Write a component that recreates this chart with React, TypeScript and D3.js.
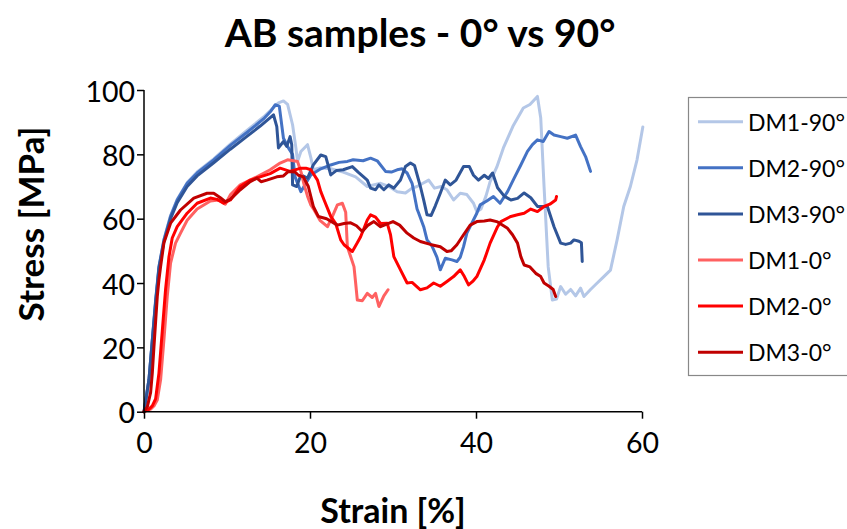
import React, { useEffect, useRef } from "react";
import * as d3 from "d3";

type Pt = [number, number];

const titleText = "AB samples - 0° vs 90°";
const xAxisTitle = "Strain [%]";
const yAxisTitle = "Stress [MPa]";
const xTicks = [0, 20, 40, 60];
const yTicks = [0, 20, 40, 60, 80, 100];

const seriesNames = ["DM1-90°", "DM2-90°", "DM3-90°", "DM1-0°", "DM2-0°", "DM3-0°"];
const seriesColors = ["#B4C7E7", "#4472C4", "#2F5597", "#FF6161", "#FF0000", "#C00000"];

const dm1_90: Pt[] = [
  [0, 0], [0.6, 10], [1, 22], [1.4, 34], [1.8, 45], [2.4, 53.5], [3.2, 61], [4, 66], [5.2, 71.2], [6.4, 74.5],
  [8.4, 78.6], [10.4, 83.2], [12.4, 87.4], [14.4, 91.6], [15.6, 94.5], [16.2, 96], [16.8, 96.6], [17.3, 95.5],
  [17.9, 89.2], [18.3, 82], [18.5, 77.8], [18.9, 80.9], [19.7, 83], [20.1, 79], [20.4, 75.2], [21.2, 75.8],
  [22.5, 75.5], [24, 74.5], [25.5, 73], [26.9, 70], [28.5, 71], [29.5, 70], [30.5, 68.4], [31.5, 68],
  [32.3, 69.5], [32.9, 70], [33.6, 71], [34.3, 72], [35, 69.5], [35.8, 70], [36.5, 69], [37.3, 65.8],
  [38.1, 67.9], [38.9, 67.5], [39.7, 64.8], [40.1, 62.2], [40.6, 63], [41.2, 67], [41.7, 71.5], [42.5, 76],
  [43.3, 82], [44.5, 89], [45.7, 94.4], [46.5, 95.5], [47.4, 98], [47.8, 91.3], [48.2, 70], [48.7, 45],
  [49.2, 34.7], [49.7, 35], [50.2, 38.9], [50.8, 36.5], [51.4, 38], [52, 36], [52.6, 38.4], [53, 35.8],
  [53.8, 38], [54.6, 40], [55.4, 42], [56.2, 44], [57, 53.4], [57.8, 63.8], [58.6, 70], [59.4, 78.3], [60.1, 88.5],
];

const dm2_90: Pt[] = [
  [0, 0], [0.6, 10], [1, 22.3], [1.4, 34.7], [1.8, 45.1], [2.4, 53.4], [3.2, 60.7], [4, 65.8], [5.2, 71],
  [6.4, 74.2], [8.4, 78.3], [10.4, 82.8], [12.4, 86.8], [14.4, 91], [15.3, 93.5], [15.8, 95.4], [16.3, 95],
  [16.8, 85], [17.4, 82], [17.9, 80], [18.2, 73], [18.9, 68.4], [19.5, 71], [20.1, 73.6], [21.3, 75.5],
  [22.5, 76.7], [23.5, 77.5], [24.5, 77.8], [25.2, 78.3], [26.4, 78], [27.3, 78.8], [28.1, 78], [29.1, 74.7],
  [29.8, 74.5], [30.5, 75.2], [31.1, 75.5], [31.7, 74.2], [32.3, 71], [32.9, 63], [33.1, 61.7], [33.7, 57.5],
  [34.1, 53.4], [34.7, 51.5], [35.3, 48], [35.7, 44.1], [36.3, 47.7], [37.1, 47.2], [37.7, 46.7], [38.1, 48],
  [38.5, 51.3], [38.9, 55.5], [39.5, 58.6], [40.1, 61.7], [40.5, 64.3], [41.3, 65.5], [42.1, 66.9],
  [42.9, 64.8], [43.8, 68.4], [44.6, 72.6], [45.4, 76.7], [46.2, 80.9], [46.8, 83], [47.4, 84.5], [48.1, 84],
  [48.8, 87.1], [49.4, 86], [50.2, 85.5], [51, 85], [52, 86], [52.6, 82.4], [53.2, 79.3], [53.8, 74.7],
];

const dm3_90: Pt[] = [
  [0, 0], [0.6, 10], [1, 22], [1.4, 34], [1.8, 44.5], [2.4, 52.8], [3.2, 60], [4, 65], [5.2, 70], [6.4, 73.3],
  [8.4, 77.4], [10.4, 81.6], [12.4, 85.6], [14, 88.8], [15.6, 92.3], [16, 88.6], [16.2, 82], [16.8, 84],
  [17.2, 82.5], [17.6, 85.5], [17.8, 83], [17.9, 70.5], [18.4, 70], [18.9, 73.6], [19.7, 72.6], [20.4, 76.7],
  [21.3, 79.8], [21.9, 79.3], [22.5, 73.6], [23.2, 75], [24, 75.2], [25.1, 76.2], [25.8, 74.5], [26.9, 72],
  [27.3, 69.5], [27.9, 69], [28.3, 70.5], [28.9, 69], [29.5, 70.5], [30.1, 69.5], [30.9, 72], [31.5, 76.2],
  [32.1, 77.3], [32.6, 76.5], [33.3, 70], [33.7, 65.8], [34.1, 61.2], [34.6, 61], [35.1, 64], [35.7, 67.9],
  [36.3, 72], [36.9, 70.5], [37.6, 72], [38.5, 76.2], [39.2, 76.2], [39.7, 73.5], [40.3, 72], [41, 73.5],
  [41.5, 72.5], [42, 74.2], [42.6, 69.6], [43.4, 67], [44.2, 65.8], [45, 66.3], [45.8, 68], [46.6, 66.5],
  [47.4, 63.8], [48.1, 63.8], [48.6, 63.8], [49.4, 57.5], [50.2, 52.4], [50.8, 52], [51.4, 52.4],
  [51.8, 53.4], [52.4, 53], [52.7, 52.5], [52.8, 46.7],
];

const dm1_0: Pt[] = [
  [0, 0], [0.8, 0.8], [1.2, 1.8], [1.6, 3.6], [2, 9.9], [2.4, 22.3], [2.8, 35.8], [3.2, 46.2], [3.8, 52.4],
  [4.4, 55.5], [5.2, 59.5], [6.4, 63], [8, 65.5], [9, 65.8], [9.8, 64.5], [10.4, 67.4], [11.6, 70.5],
  [13.6, 73], [15.2, 75.2], [16.4, 77.3], [17.3, 78.3], [18, 78], [18.5, 77.8], [18.9, 74.7], [19.3, 70.5],
  [19.7, 67], [20.1, 64.3], [20.5, 62.7], [21.2, 59.5], [22.1, 57.5], [22.7, 60.7], [23.3, 64.3],
  [23.9, 64.8], [24.3, 62], [24.5, 51.3], [25.3, 45.1], [25.5, 40], [25.7, 34.7], [26.3, 34.5],
  [26.9, 36.8], [27.5, 35.5], [27.9, 36.8], [28.3, 32.7], [28.9, 36], [29.4, 37.9],
];

const dm2_0: Pt[] = [
  [0, 0], [0.6, 0.8], [1, 1.8], [1.4, 4], [1.8, 12], [2.2, 25], [2.6, 38], [3, 48], [3.4, 54], [4, 57.5],
  [5.2, 61.7], [6.4, 64.8], [8, 66.4], [8.8, 66], [9.6, 64.8], [10.4, 65.8], [11.6, 70], [12.8, 72], [14, 73],
  [15.2, 74], [16.4, 75.7], [17.6, 74.7], [18.9, 75.7], [19.5, 75.7], [20.1, 75.2], [20.9, 72], [21.3, 68.4],
  [21.7, 65.8], [22.5, 60.7], [23.1, 58.5], [23.7, 53.4], [24.1, 51.9], [25.1, 49.8], [25.7, 52.5],
  [26.1, 54.4], [26.9, 59.6], [27.3, 61.2], [27.9, 60.5], [28.5, 58.5], [29.3, 58.6], [29.7, 55],
  [30.1, 48.2], [30.9, 44.1], [31.7, 40], [32.3, 40.2], [33.3, 37.9], [34.1, 38.5], [34.9, 40], [35.7, 39],
  [36.5, 40.5], [37.3, 42], [38.1, 44.1], [38.6, 42], [39.1, 39.4], [39.6, 40.5], [40.1, 42], [41, 47.2],
  [41.7, 52.4], [42.6, 57.5], [43, 59.1], [44.2, 60.7], [45, 61.2], [45.8, 61.7], [46.6, 63], [47.4, 62.2],
  [48.2, 63.8], [48.9, 64.5], [49.6, 65.8], [49.7, 66.9],
];

const dm3_0: Pt[] = [
  [0, 0], [0.4, 1.5], [0.8, 6], [1, 12], [1.2, 20.2], [1.4, 28], [1.6, 35.8], [1.8, 41], [2, 45.1],
  [2.4, 52.5], [3.2, 58.6], [4.4, 62.7], [6, 66.4], [7.6, 67.9], [8.4, 67.9], [9.2, 66.5], [9.8, 65.3],
  [10.4, 66], [11.6, 69], [12.8, 71.5], [13.6, 72.6], [14.1, 71.5], [14.8, 72], [16, 73], [16.8, 73.3],
  [17.4, 74.7], [18.2, 74.5], [18.6, 73.5], [19.2, 73], [19.8, 70], [20.4, 63.8], [21, 60.7], [22, 60],
  [23.3, 58], [24.1, 58.5], [24.9, 58.7], [25.6, 57.8], [26.3, 56], [27, 58], [27.7, 59.1], [28.5, 57.5],
  [30, 59.1], [30.8, 58], [31.7, 55.5], [32.5, 54], [33.3, 52.9], [34.5, 52], [35.7, 51.3], [36.5, 49.8],
  [37, 50], [37.7, 51.9], [38.5, 55], [39.3, 58], [40.1, 59.1], [41, 59.3], [41.7, 59.6], [42.6, 59],
  [43.8, 57], [44.4, 55], [45, 52.4], [45.4, 48.2], [45.8, 45.6], [46.5, 45], [47.2, 43], [47.8, 42],
  [48.2, 40], [48.8, 39], [49.3, 38], [49.6, 35.8],
];

const seriesData: Pt[][] = [dm1_90, dm2_90, dm3_90, dm1_0, dm2_0, dm3_0];

const W = 847;
const H = 529;
const FONT = "Lato, 'Open Sans', sans-serif";

export default function App() {
  const ref = useRef<SVGSVGElement | null>(null);

  useEffect(() => {
    const svg = d3.select(ref.current);
    svg.selectAll("*").remove();

    const x = d3.scaleLinear().domain([0, 60]).range([144, 642]);
    const y = d3.scaleLinear().domain([0, 100]).range([411.7, 90]);

    const line = d3
      .line<Pt>()
      .x((d) => x(d[0]))
      .y((d) => y(d[1]))
      .curve(d3.curveLinear);

    // Title
    svg
      .append("text")
      .attr("x", 420)
      .attr("y", 32)
      .attr("text-anchor", "middle")
      .attr("dominant-baseline", "central")
      .attr("font-family", FONT)
      .attr("font-weight", "bold")
      .attr("font-size", 39)
      .attr("fill", "#000")
      .text(titleText);

    // Series
    const g = svg.append("g");
    seriesData.forEach((data, i) => {
      g.append("path")
        .attr("d", line(data) || "")
        .attr("fill", "none")
        .attr("stroke", seriesColors[i])
        .attr("stroke-width", 3)
        .attr("stroke-linejoin", "round")
        .attr("stroke-linecap", "round");
    });

    // Axes
    const xAxis = d3.axisBottom(x).tickValues(xTicks).tickSize(7).tickFormat((d) => String(d));
    const yAxis = d3.axisLeft(y).tickValues(yTicks).tickSize(7).tickFormat((d) => String(d));

    const gx = svg.append("g").attr("transform", `translate(0,${y(0)})`).call(xAxis);
    const gy = svg.append("g").attr("transform", `translate(${x(0)},0)`).call(yAxis);

    [gx, gy].forEach((ax) => {
      ax.select(".domain").attr("stroke", "#000").attr("stroke-width", 1.5);
      ax.selectAll(".tick line").attr("stroke", "#000").attr("stroke-width", 1.5);
      ax.selectAll(".tick text")
        .attr("font-family", FONT)
        .attr("font-size", 28.5)
        .attr("fill", "#000");
    });
    gx.select(".domain").attr("d", `M${x(0)},0H${x(60)}`);
    gy.select(".domain").attr("d", `M0,${y(0)}V${y(100)}`);
    gx.selectAll(".tick text").attr("dy", null).attr("y", 30).attr("dominant-baseline", "central");
    gy.selectAll(".tick text").attr("dy", null).attr("x", -9).attr("dominant-baseline", "central");

    // Axis titles
    svg
      .append("text")
      .attr("x", 393)
      .attr("y", 509)
      .attr("text-anchor", "middle")
      .attr("dominant-baseline", "central")
      .attr("font-family", FONT)
      .attr("font-weight", "bold")
      .attr("font-size", 34)
      .text(xAxisTitle);

    svg
      .append("text")
      .attr("transform", `translate(30,${224}) rotate(-90)`)
      .attr("text-anchor", "middle")
      .attr("dominant-baseline", "central")
      .attr("font-family", FONT)
      .attr("font-weight", "bold")
      .attr("font-size", 35)
      .text(yAxisTitle);

    // Legend
    const lg = svg.append("g");
    lg.append("rect")
      .attr("x", 688.5)
      .attr("y", 97.5)
      .attr("width", 170)
      .attr("height", 278)
      .attr("fill", "#fff")
      .attr("stroke", "#888")
      .attr("stroke-width", 1.2);
    seriesNames.forEach((name, i) => {
      const cy = 121.7 + i * 46.1;
      lg.append("line")
        .attr("x1", 698)
        .attr("x2", 743)
        .attr("y1", cy)
        .attr("y2", cy)
        .attr("stroke", seriesColors[i])
        .attr("stroke-width", 3);
      lg.append("text")
        .attr("x", 748)
        .attr("y", cy)
        .attr("dominant-baseline", "central")
        .attr("font-family", FONT)
        .attr("font-size", 23)
        .attr("fill", "#000")
        .text(name);
    });
  }, []);

  return (
    <svg
      ref={ref}
      width={W}
      height={H}
      style={{ position: "absolute", left: 0, top: 0, background: "#fff" }}
    />
  );
}
